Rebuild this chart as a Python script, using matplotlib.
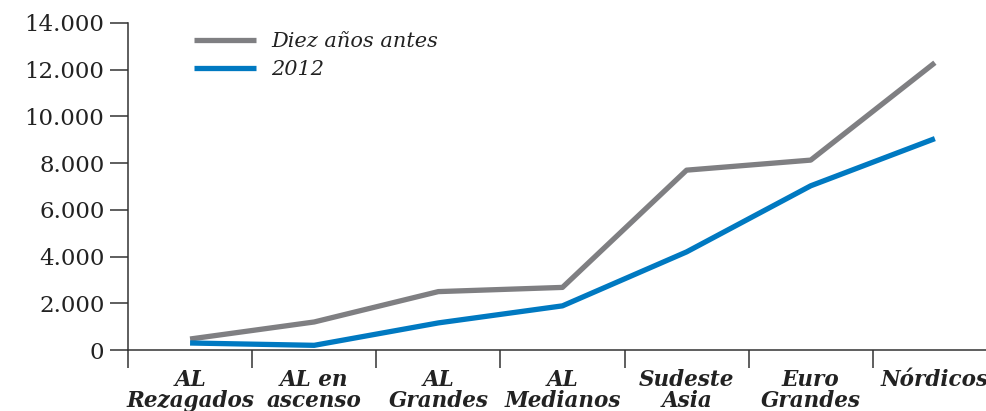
import matplotlib
matplotlib.use("Agg")
from matplotlib import pyplot as plt
from matplotlib.ticker import FuncFormatter
import numpy as np

# values
categories = ["AL\nRezagados", "AL en\nascenso", "AL\nGrandes", "AL\nMedianos",
              "Sudeste\nAsia", "Euro\nGrandes", "Nórdicos"]
diez_anos_antes = [470, 1200, 2500, 2680, 7700, 8130, 12300]
valores_2012 = [300, 200, 1160, 1890, 4200, 7030, 9050]
y_ticks = [0, 2000, 4000, 6000, 8000, 10000, 12000, 14000]

GRAY = '#7f7f82'
BLUE = '#0079c1'
AXIS = '#333333'
FONT = 'DejaVu Serif'


def fmt_thousands(v, pos):
    return f"{int(v):,}".replace(",", ".")


def main():
    fig = plt.figure(figsize=(9.87, 4.11), dpi=100)
    ax = fig.add_axes([128 / 987, 61 / 411, 1 - 128 / 987, 327 / 411])

    x = np.arange(len(categories))
    ax.plot(x, diez_anos_antes, color=GRAY, lw=3.8, solid_capstyle='butt', label='Diez años antes')
    ax.plot(x, valores_2012, color=BLUE, lw=3.8, solid_capstyle='butt', label='2012')

    ax.set_ylim(0, 14000)
    ax.set_xlim(-0.5, 6.42)
    ax.set_yticks(y_ticks)
    ax.yaxis.set_major_formatter(FuncFormatter(fmt_thousands))
    ax.tick_params(axis='y', length=13, width=1.1, color=AXIS, pad=4, labelsize=16.5, labelcolor='#222222')
    for lbl in ax.get_yticklabels():
        lbl.set_family(FONT)

    # category separators drawn as outward ticks
    ax.set_xticks(np.arange(len(categories)) - 0.5)
    ax.set_xticklabels([])
    ax.tick_params(axis='x', length=13, width=1.1, color=AXIS, direction='out')
    for i, name in enumerate(categories):
        ax.text(i, -0.058, name, transform=ax.get_xaxis_transform(), ha='center', va='top',
                family=FONT, style='italic', weight='bold', fontsize=15.5, color='#222222',
                linespacing=0.95)

    for side in ['top', 'right']:
        ax.spines[side].set_visible(False)
    for side in ['left', 'bottom']:
        ax.spines[side].set_color(AXIS)
        ax.spines[side].set_linewidth(1.1)

    leg = ax.legend(loc='upper left', bbox_to_anchor=(0.055, 1.03), frameon=False,
                    handlelength=3.0, handletextpad=0.7, labelspacing=0.45,
                    prop={'family': FONT, 'style': 'italic', 'size': 15})
    for t in leg.get_texts():
        t.set_color('#222222')

    fig.savefig('out.png', dpi=100)


if __name__ == '__main__':
    main()
